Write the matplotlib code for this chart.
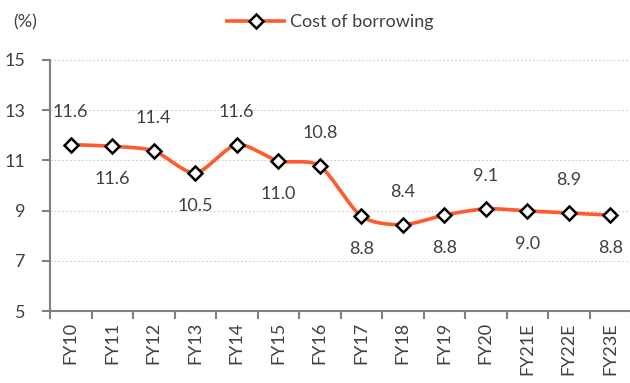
import matplotlib
matplotlib.use('Agg')
import matplotlib.pyplot as plt
from matplotlib.lines import Line2D
import numpy as np

years = ['FY10', 'FY11', 'FY12', 'FY13', 'FY14', 'FY15', 'FY16',
         'FY17', 'FY18', 'FY19', 'FY20', 'FY21E', 'FY22E', 'FY23E']
cost = [11.63, 11.56, 11.38, 10.5, 11.63, 10.98, 10.78,
        8.78, 8.44, 8.82, 9.07, 8.99, 8.9, 8.82]
yticks = [5, 7, 9, 11, 13, 15]

plt.rcParams['font.family'] = ['Lato', 'DejaVu Sans']
txt = '#404040'
line_c = '#ff5a2e'
axis_c = '#808080'


def smooth(x, y, n=20):
    # catmull-rom style smoothing, like excel's smoothed line
    x = np.asarray(x, float)
    y = np.asarray(y, float)
    px = np.concatenate([[2 * x[0] - x[1]], x, [2 * x[-1] - x[-2]]])
    py = np.concatenate([[2 * y[0] - y[1]], y, [2 * y[-1] - y[-2]]])
    xs, ys = [], []
    t = np.linspace(0, 1, n)
    for i in range(1, len(px) - 2):
        for arr, out in ((px, xs), (py, ys)):
            p0, p1, p2, p3 = arr[i - 1], arr[i], arr[i + 1], arr[i + 2]
            m1 = (p2 - p0) / 2 * 0.8
            m2 = (p3 - p1) / 2 * 0.8
            h00 = 2 * t**3 - 3 * t**2 + 1
            h10 = t**3 - 2 * t**2 + t
            h01 = -2 * t**3 + 3 * t**2
            h11 = t**3 - t**2
            out.extend(h00 * p1 + h10 * m1 + h01 * p2 + h11 * m2)
    return np.array(xs), np.array(ys)


fig = plt.figure(figsize=(6.3, 3.83), dpi=100)
ax = fig.add_axes([50 / 630, 1 - 311 / 383, 581 / 630, 251 / 383])

x = np.arange(len(years))
sx, sy = smooth(x, cost)
ax.plot(sx, sy, color=line_c, lw=2.6, zorder=2, solid_capstyle='round')
ax.plot(x, cost, ls='none', marker='D', ms=7, mfc='white', mec='black',
        mew=1.8, zorder=3)

for i, v in enumerate(cost):
    off = 33 if i % 2 == 0 else -33
    ax.annotate('{:.1f}'.format(v), (i, v), xytext=(0, off * 0.72),
                textcoords='offset points', ha='center', va='center',
                fontsize=13, color=txt)

ax.set_xlim(-0.5, len(years) - 0.5)
ax.set_ylim(5, 15)
ax.set_yticks(yticks)
ax.set_yticklabels([str(v) for v in yticks], fontsize=13, color=txt)
ax.set_xticks(x)
ax.set_xticklabels(years, rotation=90, fontsize=13, color=txt)
ax.set_xticks(np.arange(-0.5, len(years), 1), minor=True)
ax.tick_params(axis='x', which='major', length=0, pad=8)
ax.tick_params(axis='x', which='minor', length=6, color=axis_c, width=1.5)
ax.tick_params(axis='y', length=6, color=axis_c, width=1.5, pad=12)
ax.grid(axis='y', color='#d0d0d0', ls=(0, (2, 2)), lw=0.7)
ax.set_axisbelow(True)
for s in ['top', 'right']:
    ax.spines[s].set_visible(False)
for s in ['left', 'bottom']:
    ax.spines[s].set_color(axis_c)
    ax.spines[s].set_linewidth(1.5)

fig.text(13 / 630, 1 - 22 / 383, '(%)', fontsize=13, color=txt,
         ha='left', va='center')
h = Line2D([], [], color=line_c, lw=2.6, marker='D', ms=7, mfc='white',
           mec='black', mew=1.8)
fig.legend([h], ['Cost of borrowing'], loc='center',
           bbox_to_anchor=(330 / 630, 1 - 22 / 383), frameon=False,
           fontsize=13, labelcolor=txt, handlelength=3.2, handletextpad=0.3)

fig.savefig('out.png', dpi=100)
